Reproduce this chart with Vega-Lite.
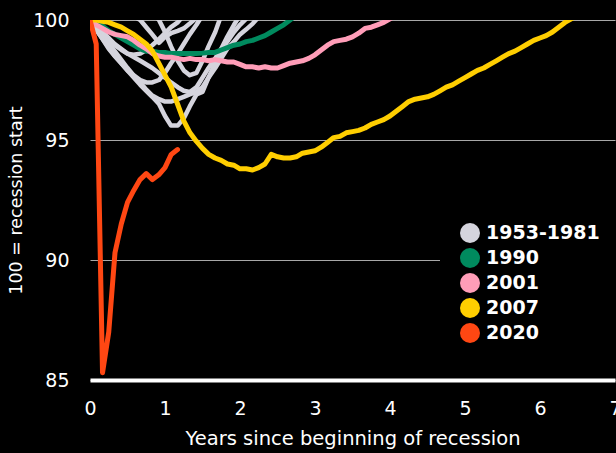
{
  "$schema": "https://vega.github.io/schema/vega-lite/v6.json",
  "autosize": {"type": "none"},
  "width": 525,
  "height": 360,
  "padding": {"left": 90, "top": 20, "right": 1, "bottom": 73},
  "background": "#000000",
  "config": {
    "view": {"stroke": null},
    "font": "DejaVu Sans",
    "axis": {"labelFont": "DejaVu Sans", "titleFont": "DejaVu Sans", "labelColor": "#ffffff", "titleColor": "#ffffff", "labelFontWeight": "normal", "titleFontWeight": "normal", "ticks": false},
    "legend": {"labelFont": "DejaVu Sans"}
  },
  "datasets": {
    "series": [
      {"g": "1953-1981", "r": "1957", "x": 0, "y": 100},
      {"g": "1953-1981", "r": "1957", "x": 0.17, "y": 99.2},
      {"g": "1953-1981", "r": "1957", "x": 0.33, "y": 98.5},
      {"g": "1953-1981", "r": "1957", "x": 0.5, "y": 97.9},
      {"g": "1953-1981", "r": "1957", "x": 0.67, "y": 97.3},
      {"g": "1953-1981", "r": "1957", "x": 0.83, "y": 96.8},
      {"g": "1953-1981", "r": "1957", "x": 0.92, "y": 96.5},
      {"g": "1953-1981", "r": "1957", "x": 1.0, "y": 96.0},
      {"g": "1953-1981", "r": "1957", "x": 1.08, "y": 95.6},
      {"g": "1953-1981", "r": "1957", "x": 1.17, "y": 95.6},
      {"g": "1953-1981", "r": "1957", "x": 1.25, "y": 95.9},
      {"g": "1953-1981", "r": "1957", "x": 1.33, "y": 96.4},
      {"g": "1953-1981", "r": "1957", "x": 1.42, "y": 96.9},
      {"g": "1953-1981", "r": "1957", "x": 1.5, "y": 97.0},
      {"g": "1953-1981", "r": "1957", "x": 1.58, "y": 97.6},
      {"g": "1953-1981", "r": "1957", "x": 1.67, "y": 98.2},
      {"g": "1953-1981", "r": "1957", "x": 1.75, "y": 98.7},
      {"g": "1953-1981", "r": "1957", "x": 1.83, "y": 99.1},
      {"g": "1953-1981", "r": "1957", "x": 1.92, "y": 99.5},
      {"g": "1953-1981", "r": "1957", "x": 2.0, "y": 99.8},
      {"g": "1953-1981", "r": "1957", "x": 2.13, "y": 100.2},

      {"g": "1953-1981", "r": "1953", "x": 0, "y": 100},
      {"g": "1953-1981", "r": "1953", "x": 0.17, "y": 99.4},
      {"g": "1953-1981", "r": "1953", "x": 0.33, "y": 98.7},
      {"g": "1953-1981", "r": "1953", "x": 0.5, "y": 98.0},
      {"g": "1953-1981", "r": "1953", "x": 0.58, "y": 97.7},
      {"g": "1953-1981", "r": "1953", "x": 0.67, "y": 97.4},
      {"g": "1953-1981", "r": "1953", "x": 0.75, "y": 97.1},
      {"g": "1953-1981", "r": "1953", "x": 0.83, "y": 96.85},
      {"g": "1953-1981", "r": "1953", "x": 0.92, "y": 96.7},
      {"g": "1953-1981", "r": "1953", "x": 1.0, "y": 96.6},
      {"g": "1953-1981", "r": "1953", "x": 1.08, "y": 96.6},
      {"g": "1953-1981", "r": "1953", "x": 1.17, "y": 96.7},
      {"g": "1953-1981", "r": "1953", "x": 1.25, "y": 96.8},
      {"g": "1953-1981", "r": "1953", "x": 1.33, "y": 96.9},
      {"g": "1953-1981", "r": "1953", "x": 1.42, "y": 97.0},
      {"g": "1953-1981", "r": "1953", "x": 1.5, "y": 97.2},
      {"g": "1953-1981", "r": "1953", "x": 1.58, "y": 97.6},
      {"g": "1953-1981", "r": "1953", "x": 1.67, "y": 98.0},
      {"g": "1953-1981", "r": "1953", "x": 1.75, "y": 98.4},
      {"g": "1953-1981", "r": "1953", "x": 1.83, "y": 98.8},
      {"g": "1953-1981", "r": "1953", "x": 1.92, "y": 99.1},
      {"g": "1953-1981", "r": "1953", "x": 2.0, "y": 99.4},
      {"g": "1953-1981", "r": "1953", "x": 2.08, "y": 99.6},
      {"g": "1953-1981", "r": "1953", "x": 2.17, "y": 99.85},
      {"g": "1953-1981", "r": "1953", "x": 2.27, "y": 100.2},

      {"g": "1953-1981", "r": "1960", "x": 0, "y": 100},
      {"g": "1953-1981", "r": "1960", "x": 0.08, "y": 99.6},
      {"g": "1953-1981", "r": "1960", "x": 0.17, "y": 99.2},
      {"g": "1953-1981", "r": "1960", "x": 0.25, "y": 98.8},
      {"g": "1953-1981", "r": "1960", "x": 0.33, "y": 98.5},
      {"g": "1953-1981", "r": "1960", "x": 0.42, "y": 98.2},
      {"g": "1953-1981", "r": "1960", "x": 0.5, "y": 97.9},
      {"g": "1953-1981", "r": "1960", "x": 0.58, "y": 97.7},
      {"g": "1953-1981", "r": "1960", "x": 0.67, "y": 97.5},
      {"g": "1953-1981", "r": "1960", "x": 0.75, "y": 97.4},
      {"g": "1953-1981", "r": "1960", "x": 0.83, "y": 97.4},
      {"g": "1953-1981", "r": "1960", "x": 0.92, "y": 97.5},
      {"g": "1953-1981", "r": "1960", "x": 1.0, "y": 97.8},
      {"g": "1953-1981", "r": "1960", "x": 1.08, "y": 98.2},
      {"g": "1953-1981", "r": "1960", "x": 1.17, "y": 98.6},
      {"g": "1953-1981", "r": "1960", "x": 1.25, "y": 99.0},
      {"g": "1953-1981", "r": "1960", "x": 1.33, "y": 99.4},
      {"g": "1953-1981", "r": "1960", "x": 1.42, "y": 99.8},
      {"g": "1953-1981", "r": "1960", "x": 1.5, "y": 100.2},

      {"g": "1953-1981", "r": "1969", "x": 0, "y": 100},
      {"g": "1953-1981", "r": "1969", "x": 0.08, "y": 100.2},
      {"g": "1953-1981", "r": "1969", "x": 0.25, "y": 100.4},
      {"g": "1953-1981", "r": "1969", "x": 0.5, "y": 100.3},
      {"g": "1953-1981", "r": "1969", "x": 0.67, "y": 100.0},
      {"g": "1953-1981", "r": "1969", "x": 0.75, "y": 99.7},
      {"g": "1953-1981", "r": "1969", "x": 0.83, "y": 99.4},
      {"g": "1953-1981", "r": "1969", "x": 0.92, "y": 99.05},
      {"g": "1953-1981", "r": "1969", "x": 1.0, "y": 99.3},
      {"g": "1953-1981", "r": "1969", "x": 1.08, "y": 99.45},
      {"g": "1953-1981", "r": "1969", "x": 1.17, "y": 99.55},
      {"g": "1953-1981", "r": "1969", "x": 1.25, "y": 99.65},
      {"g": "1953-1981", "r": "1969", "x": 1.33, "y": 99.85},
      {"g": "1953-1981", "r": "1969", "x": 1.42, "y": 100.1},

      {"g": "1953-1981", "r": "1981", "x": 0, "y": 100},
      {"g": "1953-1981", "r": "1981", "x": 0.17, "y": 99.5},
      {"g": "1953-1981", "r": "1981", "x": 0.33, "y": 99.0},
      {"g": "1953-1981", "r": "1981", "x": 0.5, "y": 98.6},
      {"g": "1953-1981", "r": "1981", "x": 0.67, "y": 98.3},
      {"g": "1953-1981", "r": "1981", "x": 0.83, "y": 98.0},
      {"g": "1953-1981", "r": "1981", "x": 1.0, "y": 97.6},
      {"g": "1953-1981", "r": "1981", "x": 1.08, "y": 97.4},
      {"g": "1953-1981", "r": "1981", "x": 1.17, "y": 97.2},
      {"g": "1953-1981", "r": "1981", "x": 1.25, "y": 97.05},
      {"g": "1953-1981", "r": "1981", "x": 1.33, "y": 97.0},
      {"g": "1953-1981", "r": "1981", "x": 1.42, "y": 97.2},
      {"g": "1953-1981", "r": "1981", "x": 1.5, "y": 97.6},
      {"g": "1953-1981", "r": "1981", "x": 1.58, "y": 98.0},
      {"g": "1953-1981", "r": "1981", "x": 1.67, "y": 98.4},
      {"g": "1953-1981", "r": "1981", "x": 1.75, "y": 98.8},
      {"g": "1953-1981", "r": "1981", "x": 1.83, "y": 99.3},
      {"g": "1953-1981", "r": "1981", "x": 1.92, "y": 99.8},
      {"g": "1953-1981", "r": "1981", "x": 2.0, "y": 100.2},

      {"g": "1953-1981", "r": "1980", "x": 0, "y": 100},
      {"g": "1953-1981", "r": "1980", "x": 0.08, "y": 99.8},
      {"g": "1953-1981", "r": "1980", "x": 0.17, "y": 99.5},
      {"g": "1953-1981", "r": "1980", "x": 0.25, "y": 99.2},
      {"g": "1953-1981", "r": "1980", "x": 0.33, "y": 98.95},
      {"g": "1953-1981", "r": "1980", "x": 0.42, "y": 98.75},
      {"g": "1953-1981", "r": "1980", "x": 0.5, "y": 98.6},
      {"g": "1953-1981", "r": "1980", "x": 0.58, "y": 98.55},
      {"g": "1953-1981", "r": "1980", "x": 0.67, "y": 98.6},
      {"g": "1953-1981", "r": "1980", "x": 0.75, "y": 98.75},
      {"g": "1953-1981", "r": "1980", "x": 0.83, "y": 98.95},
      {"g": "1953-1981", "r": "1980", "x": 0.92, "y": 99.2},
      {"g": "1953-1981", "r": "1980", "x": 1.0, "y": 99.45},
      {"g": "1953-1981", "r": "1980", "x": 1.08, "y": 99.7},
      {"g": "1953-1981", "r": "1980", "x": 1.17, "y": 99.9},
      {"g": "1953-1981", "r": "1980", "x": 1.25, "y": 100.2},

      {"g": "1953-1981", "r": "1973", "x": 0, "y": 100},
      {"g": "1953-1981", "r": "1973", "x": 0.25, "y": 100.5},
      {"g": "1953-1981", "r": "1973", "x": 0.5, "y": 100.8},
      {"g": "1953-1981", "r": "1973", "x": 0.75, "y": 100.6},
      {"g": "1953-1981", "r": "1973", "x": 0.92, "y": 100.0},
      {"g": "1953-1981", "r": "1973", "x": 1.0, "y": 99.5},
      {"g": "1953-1981", "r": "1973", "x": 1.08, "y": 98.9},
      {"g": "1953-1981", "r": "1973", "x": 1.17, "y": 98.3},
      {"g": "1953-1981", "r": "1973", "x": 1.25, "y": 97.9},
      {"g": "1953-1981", "r": "1973", "x": 1.33, "y": 97.7},
      {"g": "1953-1981", "r": "1973", "x": 1.42, "y": 97.8},
      {"g": "1953-1981", "r": "1973", "x": 1.5, "y": 98.3},
      {"g": "1953-1981", "r": "1973", "x": 1.58, "y": 98.9},
      {"g": "1953-1981", "r": "1973", "x": 1.67, "y": 99.5},
      {"g": "1953-1981", "r": "1973", "x": 1.75, "y": 100.2},

      {"g": "1990", "r": "1990", "x": 0, "y": 100},
      {"g": "1990", "r": "1990", "x": 0.083, "y": 99.95},
      {"g": "1990", "r": "1990", "x": 0.167, "y": 99.75},
      {"g": "1990", "r": "1990", "x": 0.25, "y": 99.55},
      {"g": "1990", "r": "1990", "x": 0.333, "y": 99.4},
      {"g": "1990", "r": "1990", "x": 0.417, "y": 99.25},
      {"g": "1990", "r": "1990", "x": 0.5, "y": 99.1},
      {"g": "1990", "r": "1990", "x": 0.583, "y": 98.95},
      {"g": "1990", "r": "1990", "x": 0.667, "y": 98.8},
      {"g": "1990", "r": "1990", "x": 0.75, "y": 98.7},
      {"g": "1990", "r": "1990", "x": 0.833, "y": 98.7},
      {"g": "1990", "r": "1990", "x": 0.917, "y": 98.65},
      {"g": "1990", "r": "1990", "x": 1.0, "y": 98.65},
      {"g": "1990", "r": "1990", "x": 1.083, "y": 98.6},
      {"g": "1990", "r": "1990", "x": 1.167, "y": 98.6},
      {"g": "1990", "r": "1990", "x": 1.25, "y": 98.6},
      {"g": "1990", "r": "1990", "x": 1.333, "y": 98.6},
      {"g": "1990", "r": "1990", "x": 1.417, "y": 98.6},
      {"g": "1990", "r": "1990", "x": 1.5, "y": 98.62},
      {"g": "1990", "r": "1990", "x": 1.583, "y": 98.65},
      {"g": "1990", "r": "1990", "x": 1.667, "y": 98.65},
      {"g": "1990", "r": "1990", "x": 1.75, "y": 98.75},
      {"g": "1990", "r": "1990", "x": 1.833, "y": 98.85},
      {"g": "1990", "r": "1990", "x": 1.917, "y": 98.95},
      {"g": "1990", "r": "1990", "x": 2.0, "y": 99.0},
      {"g": "1990", "r": "1990", "x": 2.083, "y": 99.1},
      {"g": "1990", "r": "1990", "x": 2.167, "y": 99.15},
      {"g": "1990", "r": "1990", "x": 2.25, "y": 99.25},
      {"g": "1990", "r": "1990", "x": 2.333, "y": 99.35},
      {"g": "1990", "r": "1990", "x": 2.417, "y": 99.5},
      {"g": "1990", "r": "1990", "x": 2.5, "y": 99.65},
      {"g": "1990", "r": "1990", "x": 2.583, "y": 99.8},
      {"g": "1990", "r": "1990", "x": 2.667, "y": 100.0},
      {"g": "1990", "r": "1990", "x": 2.75, "y": 100.2},

      {"g": "2001", "r": "2001", "x": 0, "y": 100},
      {"g": "2001", "r": "2001", "x": 0.083, "y": 99.8},
      {"g": "2001", "r": "2001", "x": 0.167, "y": 99.65},
      {"g": "2001", "r": "2001", "x": 0.25, "y": 99.5},
      {"g": "2001", "r": "2001", "x": 0.333, "y": 99.4},
      {"g": "2001", "r": "2001", "x": 0.417, "y": 99.35},
      {"g": "2001", "r": "2001", "x": 0.5, "y": 99.3},
      {"g": "2001", "r": "2001", "x": 0.583, "y": 99.15},
      {"g": "2001", "r": "2001", "x": 0.667, "y": 98.95},
      {"g": "2001", "r": "2001", "x": 0.75, "y": 98.8},
      {"g": "2001", "r": "2001", "x": 0.833, "y": 98.6},
      {"g": "2001", "r": "2001", "x": 0.917, "y": 98.5},
      {"g": "2001", "r": "2001", "x": 1.0, "y": 98.45},
      {"g": "2001", "r": "2001", "x": 1.083, "y": 98.45},
      {"g": "2001", "r": "2001", "x": 1.167, "y": 98.4},
      {"g": "2001", "r": "2001", "x": 1.25, "y": 98.35},
      {"g": "2001", "r": "2001", "x": 1.333, "y": 98.4},
      {"g": "2001", "r": "2001", "x": 1.417, "y": 98.35},
      {"g": "2001", "r": "2001", "x": 1.5, "y": 98.35},
      {"g": "2001", "r": "2001", "x": 1.583, "y": 98.3},
      {"g": "2001", "r": "2001", "x": 1.667, "y": 98.35},
      {"g": "2001", "r": "2001", "x": 1.75, "y": 98.3},
      {"g": "2001", "r": "2001", "x": 1.833, "y": 98.25},
      {"g": "2001", "r": "2001", "x": 1.917, "y": 98.25},
      {"g": "2001", "r": "2001", "x": 2.0, "y": 98.15},
      {"g": "2001", "r": "2001", "x": 2.083, "y": 98.05},
      {"g": "2001", "r": "2001", "x": 2.167, "y": 98.05},
      {"g": "2001", "r": "2001", "x": 2.25, "y": 98.0},
      {"g": "2001", "r": "2001", "x": 2.333, "y": 98.05},
      {"g": "2001", "r": "2001", "x": 2.417, "y": 98.0},
      {"g": "2001", "r": "2001", "x": 2.5, "y": 98.0},
      {"g": "2001", "r": "2001", "x": 2.583, "y": 98.1},
      {"g": "2001", "r": "2001", "x": 2.667, "y": 98.2},
      {"g": "2001", "r": "2001", "x": 2.75, "y": 98.25},
      {"g": "2001", "r": "2001", "x": 2.833, "y": 98.3},
      {"g": "2001", "r": "2001", "x": 2.917, "y": 98.4},
      {"g": "2001", "r": "2001", "x": 3.0, "y": 98.55},
      {"g": "2001", "r": "2001", "x": 3.083, "y": 98.75},
      {"g": "2001", "r": "2001", "x": 3.167, "y": 98.95},
      {"g": "2001", "r": "2001", "x": 3.25, "y": 99.1},
      {"g": "2001", "r": "2001", "x": 3.333, "y": 99.15},
      {"g": "2001", "r": "2001", "x": 3.417, "y": 99.2},
      {"g": "2001", "r": "2001", "x": 3.5, "y": 99.3},
      {"g": "2001", "r": "2001", "x": 3.583, "y": 99.45},
      {"g": "2001", "r": "2001", "x": 3.667, "y": 99.65},
      {"g": "2001", "r": "2001", "x": 3.75, "y": 99.7},
      {"g": "2001", "r": "2001", "x": 3.833, "y": 99.8},
      {"g": "2001", "r": "2001", "x": 3.917, "y": 99.9},
      {"g": "2001", "r": "2001", "x": 4.0, "y": 100.05},
      {"g": "2001", "r": "2001", "x": 4.083, "y": 100.2},

      {"g": "2007", "r": "2007", "x": 0, "y": 100},
      {"g": "2007", "r": "2007", "x": 0.083, "y": 100.0},
      {"g": "2007", "r": "2007", "x": 0.167, "y": 99.95},
      {"g": "2007", "r": "2007", "x": 0.25, "y": 99.9},
      {"g": "2007", "r": "2007", "x": 0.333, "y": 99.8},
      {"g": "2007", "r": "2007", "x": 0.417, "y": 99.7},
      {"g": "2007", "r": "2007", "x": 0.5, "y": 99.55},
      {"g": "2007", "r": "2007", "x": 0.583, "y": 99.4},
      {"g": "2007", "r": "2007", "x": 0.667, "y": 99.2},
      {"g": "2007", "r": "2007", "x": 0.75, "y": 99.0},
      {"g": "2007", "r": "2007", "x": 0.833, "y": 98.7},
      {"g": "2007", "r": "2007", "x": 0.917, "y": 98.2},
      {"g": "2007", "r": "2007", "x": 1.0, "y": 97.7},
      {"g": "2007", "r": "2007", "x": 1.083, "y": 97.2},
      {"g": "2007", "r": "2007", "x": 1.167, "y": 96.5},
      {"g": "2007", "r": "2007", "x": 1.25, "y": 95.8},
      {"g": "2007", "r": "2007", "x": 1.333, "y": 95.3},
      {"g": "2007", "r": "2007", "x": 1.417, "y": 94.95},
      {"g": "2007", "r": "2007", "x": 1.5, "y": 94.65},
      {"g": "2007", "r": "2007", "x": 1.583, "y": 94.4},
      {"g": "2007", "r": "2007", "x": 1.667, "y": 94.25},
      {"g": "2007", "r": "2007", "x": 1.75, "y": 94.15},
      {"g": "2007", "r": "2007", "x": 1.833, "y": 94.0},
      {"g": "2007", "r": "2007", "x": 1.917, "y": 93.95},
      {"g": "2007", "r": "2007", "x": 2.0, "y": 93.8},
      {"g": "2007", "r": "2007", "x": 2.083, "y": 93.8},
      {"g": "2007", "r": "2007", "x": 2.167, "y": 93.75},
      {"g": "2007", "r": "2007", "x": 2.25, "y": 93.85},
      {"g": "2007", "r": "2007", "x": 2.333, "y": 94.0},
      {"g": "2007", "r": "2007", "x": 2.417, "y": 94.4},
      {"g": "2007", "r": "2007", "x": 2.5, "y": 94.3},
      {"g": "2007", "r": "2007", "x": 2.583, "y": 94.25},
      {"g": "2007", "r": "2007", "x": 2.667, "y": 94.25},
      {"g": "2007", "r": "2007", "x": 2.75, "y": 94.3},
      {"g": "2007", "r": "2007", "x": 2.833, "y": 94.45},
      {"g": "2007", "r": "2007", "x": 2.917, "y": 94.5},
      {"g": "2007", "r": "2007", "x": 3.0, "y": 94.55},
      {"g": "2007", "r": "2007", "x": 3.083, "y": 94.7},
      {"g": "2007", "r": "2007", "x": 3.167, "y": 94.9},
      {"g": "2007", "r": "2007", "x": 3.25, "y": 95.1},
      {"g": "2007", "r": "2007", "x": 3.333, "y": 95.15},
      {"g": "2007", "r": "2007", "x": 3.417, "y": 95.3},
      {"g": "2007", "r": "2007", "x": 3.5, "y": 95.35},
      {"g": "2007", "r": "2007", "x": 3.583, "y": 95.4},
      {"g": "2007", "r": "2007", "x": 3.667, "y": 95.5},
      {"g": "2007", "r": "2007", "x": 3.75, "y": 95.65},
      {"g": "2007", "r": "2007", "x": 3.833, "y": 95.75},
      {"g": "2007", "r": "2007", "x": 3.917, "y": 95.85},
      {"g": "2007", "r": "2007", "x": 4.0, "y": 96.0},
      {"g": "2007", "r": "2007", "x": 4.083, "y": 96.2},
      {"g": "2007", "r": "2007", "x": 4.167, "y": 96.4},
      {"g": "2007", "r": "2007", "x": 4.25, "y": 96.6},
      {"g": "2007", "r": "2007", "x": 4.333, "y": 96.7},
      {"g": "2007", "r": "2007", "x": 4.417, "y": 96.75},
      {"g": "2007", "r": "2007", "x": 4.5, "y": 96.8},
      {"g": "2007", "r": "2007", "x": 4.583, "y": 96.9},
      {"g": "2007", "r": "2007", "x": 4.667, "y": 97.05},
      {"g": "2007", "r": "2007", "x": 4.75, "y": 97.2},
      {"g": "2007", "r": "2007", "x": 4.833, "y": 97.3},
      {"g": "2007", "r": "2007", "x": 4.917, "y": 97.45},
      {"g": "2007", "r": "2007", "x": 5.0, "y": 97.6},
      {"g": "2007", "r": "2007", "x": 5.083, "y": 97.75},
      {"g": "2007", "r": "2007", "x": 5.167, "y": 97.9},
      {"g": "2007", "r": "2007", "x": 5.25, "y": 98.0},
      {"g": "2007", "r": "2007", "x": 5.333, "y": 98.15},
      {"g": "2007", "r": "2007", "x": 5.417, "y": 98.3},
      {"g": "2007", "r": "2007", "x": 5.5, "y": 98.45},
      {"g": "2007", "r": "2007", "x": 5.583, "y": 98.6},
      {"g": "2007", "r": "2007", "x": 5.667, "y": 98.7},
      {"g": "2007", "r": "2007", "x": 5.75, "y": 98.85},
      {"g": "2007", "r": "2007", "x": 5.833, "y": 99.0},
      {"g": "2007", "r": "2007", "x": 5.917, "y": 99.15},
      {"g": "2007", "r": "2007", "x": 6.0, "y": 99.25},
      {"g": "2007", "r": "2007", "x": 6.083, "y": 99.35},
      {"g": "2007", "r": "2007", "x": 6.167, "y": 99.5},
      {"g": "2007", "r": "2007", "x": 6.25, "y": 99.7},
      {"g": "2007", "r": "2007", "x": 6.333, "y": 99.9},
      {"g": "2007", "r": "2007", "x": 6.417, "y": 100.05},
      {"g": "2007", "r": "2007", "x": 6.5, "y": 100.2},

      {"g": "2020", "r": "2020", "x": 0, "y": 100},
      {"g": "2020", "r": "2020", "x": 0.083, "y": 99.0},
      {"g": "2020", "r": "2020", "x": 0.167, "y": 85.3},
      {"g": "2020", "r": "2020", "x": 0.25, "y": 87.0},
      {"g": "2020", "r": "2020", "x": 0.333, "y": 90.3},
      {"g": "2020", "r": "2020", "x": 0.417, "y": 91.5},
      {"g": "2020", "r": "2020", "x": 0.5, "y": 92.4},
      {"g": "2020", "r": "2020", "x": 0.583, "y": 92.9},
      {"g": "2020", "r": "2020", "x": 0.667, "y": 93.35},
      {"g": "2020", "r": "2020", "x": 0.75, "y": 93.6},
      {"g": "2020", "r": "2020", "x": 0.833, "y": 93.35},
      {"g": "2020", "r": "2020", "x": 0.917, "y": 93.55},
      {"g": "2020", "r": "2020", "x": 1.0, "y": 93.85},
      {"g": "2020", "r": "2020", "x": 1.083, "y": 94.4},
      {"g": "2020", "r": "2020", "x": 1.167, "y": 94.6}
    ]
  },
  "data": {"name": "series"},
  "encoding": {
    "x": {
      "field": "x", "type": "quantitative",
      "scale": {"domain": [0, 7], "nice": false},
      "axis": {
        "values": [0, 1, 2, 3, 4, 5, 6, 7], "format": "d",
        "grid": false, "domain": true, "domainColor": "#ffffff", "domainWidth": 4,
        "labelFontSize": 19, "labelPadding": 19, "labelFlush": false,
        "title": "Years since beginning of recession", "titleFontSize": 19.5, "titlePadding": 11
      }
    },
    "y": {
      "field": "y", "type": "quantitative",
      "scale": {"domain": [85, 100], "nice": false, "zero": false},
      "axis": {
        "values": [85, 90, 95, 100], "domain": false,
        "grid": true, "gridColor": "#a8a8a8", "gridWidth": 1.2,
        "labelFontSize": 19, "labelPadding": 21,
        "title": "100 = recession start", "titleFontSize": 17.5, "titlePadding": 7
      }
    },
    "color": {
      "field": "g", "type": "nominal",
      "scale": {
        "domain": ["1953-1981", "1990", "2001", "2007", "2020"],
        "range": ["#d5d4dd", "#008a5e", "#ff9db8", "#ffce00", "#ff4713"]
      },
      "legend": {
        "title": null, "orient": "none", "legendX": 350, "legendY": 183,
        "fillColor": "#000000", "padding": 20,
        "symbolType": "circle", "symbolSize": 400, "symbolStrokeWidth": 0,
        "labelFontSize": 19, "labelFontWeight": "bold", "labelColor": "#ffffff",
        "labelOffset": 6, "rowPadding": 5,
        "encode": {"symbols": {"update": {"fill": {"scale": "color", "field": "value"}, "stroke": {"value": "transparent"}}}}
      }
    },
    "detail": {"field": "r"}
  },
  "layer": [
    {"transform": [{"filter": "datum.g === '1953-1981'"}], "mark": {"type": "line", "clip": true, "strokeWidth": 4.5, "strokeJoin": "round", "strokeCap": "round"}},
    {"transform": [{"filter": "datum.g === '1990'"}], "mark": {"type": "line", "clip": true, "strokeWidth": 5, "strokeJoin": "round", "strokeCap": "round"}},
    {"transform": [{"filter": "datum.g === '2001'"}], "mark": {"type": "line", "clip": true, "strokeWidth": 5, "strokeJoin": "round", "strokeCap": "round"}},
    {"transform": [{"filter": "datum.g === '2007'"}], "mark": {"type": "line", "clip": true, "strokeWidth": 5, "strokeJoin": "round", "strokeCap": "round"}},
    {"transform": [{"filter": "datum.g === '2020'"}], "mark": {"type": "line", "clip": true, "strokeWidth": 5, "strokeJoin": "round", "strokeCap": "round"}}
  ]
}
